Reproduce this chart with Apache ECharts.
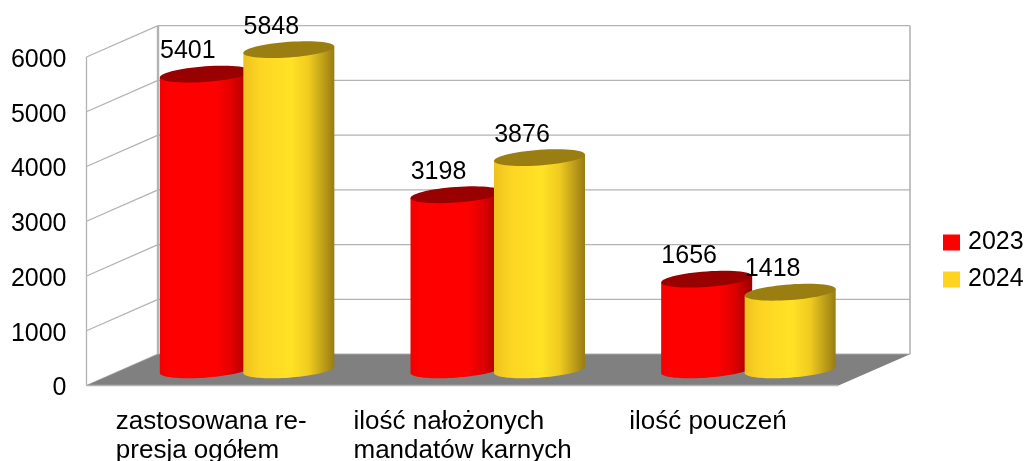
<!DOCTYPE html>
<html><head><meta charset="utf-8">
<style>html,body{margin:0;padding:0;background:#fff}#c{width:1024px;height:461px}</style>
<script src="https://cdn.jsdelivr.net/npm/echarts@6/dist/echarts.min.js"></script>
</head><body><div id="c"></div>
<script>
const categories = ['zastosowana re-\npresja ogółem', 'ilość nałożonych\nmandatów karnych', 'ilość pouczeń'];
const years = ['2023', '2024'];
const values2023 = [5401, 3198, 1656];
const values2024 = [5848, 3876, 1418];
const yTicks = [0, 1000, 2000, 3000, 4000, 5000, 6000];

const FONT = '"Liberation Sans", Arial, sans-serif';
const DEPTH_X = 71.5, DEPTH_Y = 31.3, GRID_C = '#b3b3b3';
const CYL_W = 91, CYL_STEP = 83.5, RY = 7.8, SHEAR = 3.2;

const palettes = {
  '2023': {
    legend: '#ff0000', top: '#990000',
    stops: [[0, '#f20000'], [0.1, '#ff0000'], [0.62, '#ff0000'], [0.8, '#e00000'], [1, '#9a0000']]
  },
  '2024': {
    legend: '#ffd320', top: '#9b7e12',
    stops: [[0, '#eec21f'], [0.18, '#fcd523'], [0.52, '#ffe225'], [0.72, '#f0cb20'], [1, '#987c14']]
  }
};

function ellipsePts(cx, cy, from, to, n) {
  const pts = [];
  for (let i = 0; i <= n; i++) {
    const t = from + (to - from) * i / n;
    pts.push([cx + CYL_W / 2 * Math.cos(t), cy + RY * Math.sin(t) - SHEAR * Math.cos(t)]);
  }
  return pts;
}

function frameItem(params, api) {
  const r = params.coordSys;
  const p = api.coord([0, api.value(1)]);
  const x0 = r.x, x1 = r.x + r.width, y = p[1];
  const line = (a, b, c, d, w) => ({type: 'line', shape: {x1: a, y1: b, x2: c, y2: d},
    style: {stroke: GRID_C, lineWidth: w || 1.3, fill: null}});
  const kids = [
    line(x0, y, x0 + DEPTH_X, y - DEPTH_Y),
    line(x0 + DEPTH_X, y - DEPTH_Y, x1 + DEPTH_X, y - DEPTH_Y)
  ];
  if (params.dataIndex === 0) {
    const yb = r.y + r.height;
    kids.unshift(
      line(x0, r.y, x0, yb),
      line(x0 + DEPTH_X, r.y - DEPTH_Y, x0 + DEPTH_X, yb - DEPTH_Y, 2.4),
      line(x1 + DEPTH_X, r.y - DEPTH_Y, x1 + DEPTH_X, yb - DEPTH_Y, 1.6)
    );
    kids.push(
      {type: 'polygon', shape: {points: [[x0, yb], [x0 + DEPTH_X, yb - DEPTH_Y], [x1 + DEPTH_X, yb - DEPTH_Y], [x1, yb]]},
       style: {fill: '#808080'}},
      line(x0, yb, x1, yb, 1.6)
    );
  }
  return {type: 'group', children: kids};
}

function cylinderItem(year, sign) {
  const pal = palettes[year];
  return function (params, api) {
    const idx = api.value(0), val = api.value(1);
    const top = api.coord([idx, val]), base = api.coord([idx, 0]);
    const cx = top[0] + DEPTH_X / 2 + sign * CYL_STEP / 2 - 0.5;
    const yt = top[1] - DEPTH_Y / 2, yb = base[1] - DEPTH_Y / 2;
    const body = [[cx + CYL_W / 2, yt - SHEAR]]
      .concat(ellipsePts(cx, yb, 0, Math.PI, 40))
      .concat([[cx - CYL_W / 2, yt + SHEAR]]);
    return {type: 'group', children: [
      {type: 'polygon', shape: {points: body},
       style: {fill: {type: 'linear', x: 0, y: 0, x2: 1, y2: 0,
         colorStops: pal.stops.map(s => ({offset: s[0], color: s[1]}))}}},
      {type: 'polygon', shape: {points: ellipsePts(cx, yt, 0, Math.PI * 2, 60)},
       style: {fill: pal.top}},
      {type: 'text', x: cx - 17.5, y: yt - 23,
       style: {text: String(val), fill: '#000', font: '25px ' + FONT, align: 'center', verticalAlign: 'middle'}}
    ]};
  };
}

const labelRich = {
  a: {width: 192, align: 'left', fontSize: 26, lineHeight: 29, fontFamily: FONT, color: '#000'},
  b: {width: 218, align: 'left', fontSize: 26, lineHeight: 29, fontFamily: FONT, color: '#000'},
  c: {width: 168, align: 'left', fontSize: 26, lineHeight: 29, fontFamily: FONT, color: '#000'}
};

const chart = echarts.init(document.getElementById('c'), null, {renderer: 'canvas'});
chart.setOption({
  animation: false,
  backgroundColor: '#fff',
  grid: {left: 86.5, right: 185.5, top: 57, bottom: 75.5, containLabel: false, outerBoundsMode: 'none'},
  legend: {
    orient: 'vertical', left: 938, top: 225, icon: 'rect',
    itemWidth: 17, itemHeight: 16, itemGap: 12, selectedMode: false,
    textStyle: {fontSize: 25, fontFamily: FONT, color: '#000', padding: [2, 0, 0, 3]},
    data: years
  },
  xAxis: {
    type: 'category', data: categories,
    axisLine: {show: false}, axisTick: {show: false}, splitLine: {show: false},
    axisLabel: {
      interval: 0, margin: 22,
      formatter: (v, i) => {
        const tag = ['a', 'b', 'c'][i];
        return v.split('\n').map(l => '{' + tag + '|' + l + '}').join('\n');
      },
      rich: labelRich
    }
  },
  yAxis: {
    type: 'value', min: 0, max: 6000, interval: 1000,
    axisLine: {show: false}, axisTick: {show: false}, splitLine: {show: false},
    axisLabel: {margin: 20, fontSize: 25, fontFamily: FONT, color: '#000',
      formatter: v => '{t|' + v + '}',
      rich: {t: {fontSize: 25, fontFamily: FONT, color: '#000', padding: [6, 0, 0, 0]}}}
  },
  series: [
    {type: 'custom', name: 'frame', silent: true, z: 1, clip: false, coordinateSystem: 'cartesian2d',
     renderItem: frameItem, encode: {x: 0, y: 1},
     data: yTicks.map(t => [0, t])},
    {type: 'custom', name: years[0], z: 2, clip: false, renderItem: cylinderItem(years[0], -1),
     encode: {x: 0, y: 1}, itemStyle: {color: palettes[years[0]].legend},
     data: values2023.map((v, i) => [i, v])},
    {type: 'custom', name: years[1], z: 3, clip: false, renderItem: cylinderItem(years[1], 1),
     encode: {x: 0, y: 1}, itemStyle: {color: palettes[years[1]].legend},
     data: values2024.map((v, i) => [i, v])}
  ]
});
</script></body></html>
